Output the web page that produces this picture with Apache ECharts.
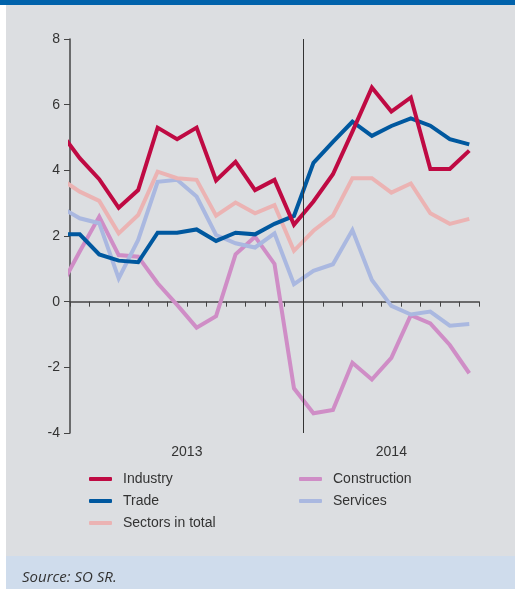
<!DOCTYPE html>
<html>
<head>
<meta charset="utf-8">
<script src="https://cdn.jsdelivr.net/npm/echarts@6/dist/echarts.min.js"></script>
<style>
html,body{margin:0;padding:0;background:#ffffff;}
#chart{width:515px;height:589px;}
</style>
</head>
<body>
<div id="chart"></div>
<script>
// Months: Dec 2012 (partly visible at the left edge) .. Sep 2014
const months = ['12/2012','1/2013','2/2013','3/2013','4/2013','5/2013','6/2013','7/2013','8/2013','9/2013','10/2013','11/2013','12/2013',
                '1/2014','2/2014','3/2014','4/2014','5/2014','6/2014','7/2014','8/2014','9/2014'];
const years = ['2013','2014'];
const yearMonths = [12, 9];
const yTicks = [-4, -2, 0, 2, 4, 6, 8];

const industry     = [5.17, 4.37, 3.73, 2.86, 3.40, 5.30, 4.95, 5.30, 3.69, 4.26, 3.40, 3.71, 2.34,
                      3.05, 3.88, 5.18, 6.52, 5.79, 6.22, 4.04, 4.04, 4.60];
const trade        = [2.05, 2.05, 1.44, 1.25, 1.20, 2.10, 2.10, 2.20, 1.85, 2.10, 2.05, 2.37, 2.61,
                      4.23, 4.87, 5.48, 5.05, 5.35, 5.58, 5.36, 4.95, 4.79];
const sectorsTotal = [3.75, 3.35, 3.07, 2.08, 2.64, 3.96, 3.76, 3.71, 2.62, 3.02, 2.69, 2.94, 1.55,
                      2.16, 2.62, 3.76, 3.76, 3.32, 3.60, 2.69, 2.37, 2.52];
const construction = [0.43, 1.53, 2.59, 1.42, 1.37, 0.56, -0.10, -0.79, -0.44, 1.44, 1.98, 1.15, -2.64,
                      -3.40, -3.30, -1.86, -2.37, -1.71, -0.41, -0.66, -1.32, -2.18];
const services     = [2.88, 2.54, 2.39, 0.71, 1.88, 3.65, 3.71, 3.20, 2.03, 1.78, 1.65, 2.08, 0.53,
                      0.94, 1.14, 2.18, 0.66, -0.13, -0.39, -0.30, -0.73, -0.68];

const colors = {
  'Industry': '#bf0a43',
  'Trade': '#00589f',
  'Sectors in total': '#ebb3b3',
  'Construction': '#cf8dc6',
  'Services': '#aab8e0'
};

// month i sits in the middle of its month slot; Dec 2012 lies half a slot left of the axis and is clipped
function toPoints(arr){ return arr.map((v,i)=>[i-0.5, v]); }

const totalMonths = yearMonths.reduce((a,b)=>a+b,0);
const yearCenters = [];
let acc = 0;
yearMonths.forEach(n=>{ yearCenters.push(acc + n/2); acc += n; });
const divider = yearMonths[0];

const font = '"Liberation Sans", Arial, sans-serif';

function mkSeries(name, arr, extra){
  return Object.assign({
    name: name,
    type: 'line',
    xAxisIndex: 0,
    data: toPoints(arr),
    showSymbol: false,
    symbol: 'none',
    clip: true,
    lineStyle: {width: 4, color: colors[name], join: 'miter', cap: 'butt'},
    itemStyle: {color: colors[name]},
    emphasis: {disabled: true},
    animation: false
  }, extra||{});
}

const legendCommon = {
  orient: 'vertical', top: 471, padding: 0,
  icon: 'roundRect', itemWidth: 23, itemHeight: 4, itemGap: 6,
  textStyle: {fontFamily: font, fontSize: 14, color: '#333333', padding:[0,0,0,6], lineHeight:16},
  selectedMode: false
};

const chart = echarts.init(document.getElementById('chart'), null, {renderer:'canvas'});
chart.setOption({
  animation: false,
  backgroundColor: 'transparent',
  graphic: [
    {type:'rect', shape:{x:0,y:0,width:515,height:5}, style:{fill:'#0062ab'}, z:-10, silent:true},
    {type:'rect', shape:{x:6,y:5,width:509,height:551}, style:{fill:'#dcdee1'}, z:-10, silent:true},
    {type:'rect', shape:{x:6,y:556,width:509,height:33}, style:{fill:'#cfdcec'}, z:-10, silent:true},
    {type:'text', left:22, top:570, style:{text:'Source: SO SR.', fill:'#333333', font:'italic 15px "Open Sans", sans-serif'}, z:10}
  ],
  grid: {left:70, right:36, top:39, bottom:156, containLabel:false},
  legend: [
    Object.assign({data: ['Industry','Trade','Sectors in total'], left: 89}, legendCommon),
    Object.assign({data: ['Construction','Services'], left: 299}, legendCommon)
  ],
  xAxis: [
    {
      type: 'value', min: 0, max: totalMonths, interval: 1,
      axisLine: {show:true, onZero:true, lineStyle:{color:'#444444', width:1.5}},
      axisTick: {show:true, inside:false, length:5, lineStyle:{color:'#444444', width:1}},
      axisLabel: {show:false},
      splitLine: {show:false}
    },
    {
      type: 'value', min: 0, max: totalMonths, position: 'bottom',
      axisLine: {show:false, onZero:false},
      axisTick: {show:false},
      splitLine: {show:false},
      axisLabel: {
        show: true, margin: 12, fontFamily: font, fontSize: 14, color: '#333333',
        customValues: yearCenters,
        formatter: function(v){ const i = yearCenters.indexOf(v); return i>=0 ? years[i] : ''; }
      }
    }
  ],
  yAxis: {
    type: 'value', min: yTicks[0], max: yTicks[yTicks.length-1], interval: 2,
    axisLine: {show:true, lineStyle:{color:'#444444', width:1.5}},
    axisTick: {show:true, inside:false, length:6, lineStyle:{color:'#444444', width:1}},
    axisLabel: {margin: 10, fontFamily: font, fontSize: 14, color: '#333333'},
    splitLine: {show:false}
  },
  series: [
    mkSeries('Construction', construction),
    mkSeries('Services', services),
    mkSeries('Sectors in total', sectorsTotal),
    mkSeries('Trade', trade),
    mkSeries('Industry', industry, {
      markLine: {
        silent: true, symbol: ['none','none'], label:{show:false},
        lineStyle: {color:'#333333', width:1, type:'solid'},
        data: [{xAxis: divider}],
        animation: false
      }
    })
  ]
});
</script>
</body>
</html>
